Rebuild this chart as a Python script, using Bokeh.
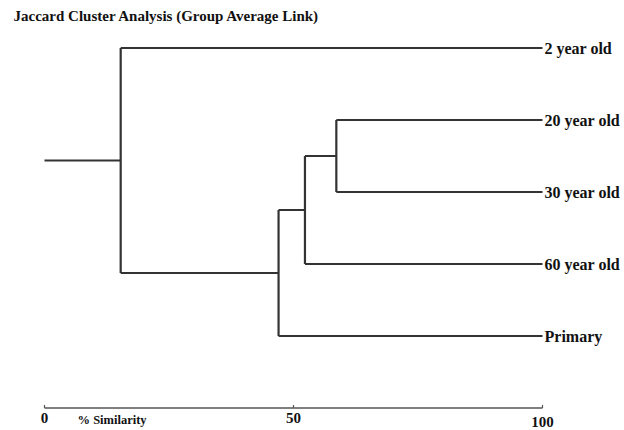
from bokeh.plotting import figure
from bokeh.models import Range1d, ColumnDataSource, Label
from bokeh.core.properties import value
from bokeh.embed import file_html
from bokeh.resources import INLINE

# ---- data ----
title_text = "Jaccard Cluster Analysis (Group Average Link)"
leaves = ["2 year old", "20 year old", "30 year old", "60 year old", "Primary"]
leaf_similarity = 100
# linkage: (child a, child b, % similarity); new clusters numbered 5, 6, 7, 8
merge_a = [1, 3, 4, 0]
merge_b = [2, 5, 6, 7]
merge_sim = [58.6, 52.3, 47.0, 15.3]
axis_ticks = [0, 50, 100]
axis_tick_labels = ["0", "50", "100"]
axis_title = "% Similarity"

# ---- layout ----
W, H = 624, 430
px_per_unit = 4.98
x0_px = 44
x_start = -x0_px / px_per_unit
x_end = x_start + W / px_per_unit
row_px = 72
top_px = 47.5
y_end = top_px / row_px
y_start = y_end - H / row_px

p = figure(width=W, height=H, output_backend="svg", toolbar_location=None,
           x_range=Range1d(x_start, x_end), y_range=Range1d(y_start, y_end),
           min_border=0, outline_line_color=None)
p.axis.visible = False
p.grid.visible = False

line_col = "#333333"
serif = value("Liberation Serif")

# ---- compute dendrogram geometry ----
n = len(leaves)
pos_x = {i: leaf_similarity for i in range(n)}
pos_y = {i: -i for i in range(n)}
hx0, hx1, hy = [], [], []
vx, vy0, vy1 = [], [], []
for k, (a, b, s) in enumerate(zip(merge_a, merge_b, merge_sim)):
    node = n + k
    vx.append(s); vy0.append(pos_y[a]); vy1.append(pos_y[b])
    for c in (a, b):
        hx0.append(s); hx1.append(pos_x[c]); hy.append(pos_y[c])
    pos_x[node] = s
    pos_y[node] = (pos_y[a] + pos_y[b]) / 2
root = n + len(merge_sim) - 1
hx0.append(0); hx1.append(pos_x[root]); hy.append(pos_y[root])

p.segment(x0=hx0, y0=hy, x1=hx1, y1=hy, line_color=line_col, line_width=2.2)
p.segment(x0=vx, y0=vy0, x1=vx, y1=vy1, line_color=line_col, line_width=2.2)

# leaf labels
src = ColumnDataSource(dict(x=[leaf_similarity] * n, y=[-i for i in range(n)], t=leaves))
p.text(x="x", y="y", text="t", source=src, x_offset=2, text_baseline="middle",
       text_align="left", text_font=serif, text_font_size="16px",
       text_font_style="bold", text_color="#111111")

# bottom scale
axis_y = -n
p.segment(x0=[axis_ticks[0]], y0=[axis_y], x1=[axis_ticks[-1]], y1=[axis_y],
          line_color="#555555", line_width=1.6)
p.segment(x0=axis_ticks, y0=[axis_y] * len(axis_ticks), x1=axis_ticks,
          y1=[axis_y + 3 / row_px] * len(axis_ticks), line_color="#555555", line_width=1.2)
tsrc = ColumnDataSource(dict(x=axis_ticks, y=[axis_y] * len(axis_ticks), t=axis_tick_labels,
                             yo=[5, 5, 9]))
p.text(x="x", y="y", text="t", source=tsrc, y_offset="yo", text_baseline="top",
       text_align="center", text_font=serif, text_font_size="15px",
       text_font_style="bold", text_color="#111111")
p.text(x=[axis_ticks[0]], y=[axis_y], text=[axis_title], x_offset=33, y_offset=5,
       text_baseline="top", text_align="left", text_font=serif,
       text_font_size="12.5px", text_font_style="bold", text_color="#111111")

# title
p.add_layout(Label(x=13, y=H - 15, x_units="screen", y_units="screen", text=title_text,
                   text_baseline="middle", text_align="left", text_font="Liberation Serif",
                   text_font_size="15px", text_font_style="bold", text_color="#111111"))

open("out.html", "w").write(file_html(p, INLINE))
